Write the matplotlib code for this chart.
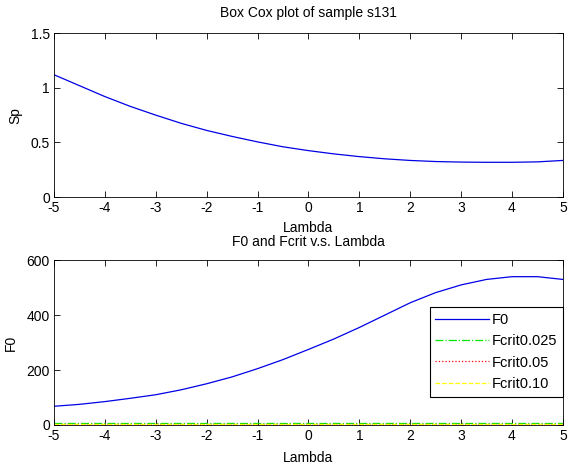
import numpy as np
import matplotlib
matplotlib.use('Agg')
import matplotlib.pyplot as plt

# Data #
lam = [-5, -4.5, -4, -3.5, -3, -2.5, -2, -1.5, -1, -0.5, 0, 0.5, 1, 1.5, 2, 2.5, 3, 3.5, 4, 4.5, 5]
Sp = [1.12, 1.02, 0.92, 0.83, 0.75, 0.675, 0.61, 0.555, 0.505, 0.46, 0.425, 0.395, 0.37, 0.35,
      0.335, 0.325, 0.32, 0.318, 0.318, 0.322, 0.335]
F0 = [68, 75, 85, 97, 110, 128, 150, 175, 205, 238, 275, 313, 355, 400, 445, 482, 510, 530, 540, 540, 530]
Fcrit025 = [6.5] * len(lam)
Fcrit05 = [5.0] * len(lam)
Fcrit10 = [3.5] * len(lam)

plt.rcParams['font.family'] = ['Liberation Sans', 'DejaVu Sans']
plt.rcParams['font.size'] = 10

fig = plt.figure(figsize=(5.68, 4.68), dpi=100)

# Top panel #
ax1 = fig.add_axes([0.095, 0.579, 0.896, 0.350])
ax1.plot(lam, Sp, color=(0, 0, 0.9), lw=0.9)
ax1.set_xlim(-5, 5)
ax1.set_ylim(0, 1.5)
ax1.set_xticks(range(-5, 6))
ax1.set_yticks([0, 0.5, 1, 1.5])
ax1.set_yticklabels(['0', '0.5', '1', '1.5'])
ax1.set_xlabel('Lambda', labelpad=4)
ax1.set_ylabel('Sp', labelpad=6)
ax1.set_title('Box Cox plot of sample s131', fontsize=10, pad=12)

# Bottom panel #
ax2 = fig.add_axes([0.095, 0.092, 0.896, 0.352])
ax2.plot(lam, F0, color=(0, 0, 0.9), lw=0.9, label='F0')
ax2.plot(lam, Fcrit025, color=(0, 0.9, 0), lw=0.9, linestyle='-.', label='Fcrit0.025')
ax2.plot(lam, Fcrit05, color=(1, 0, 0), lw=0.9, linestyle=':', label='Fcrit0.05')
ax2.plot(lam, Fcrit10, color=(1, 1, 0), lw=0.9, linestyle='--', label='Fcrit0.10')
ax2.set_xlim(-5, 5)
ax2.set_ylim(0, 600)
ax2.set_xticks(range(-5, 6))
ax2.set_yticks([0, 200, 400, 600])
ax2.set_xlabel('Lambda', labelpad=6)
ax2.set_ylabel('F0', labelpad=6)
ax2.set_title('F0 and Fcrit v.s. Lambda', fontsize=10, pad=10)

leg = ax2.legend(loc='upper right', bbox_to_anchor=(1.0, 0.715), fancybox=False, framealpha=1,
                 edgecolor='k', handlelength=3.7, handletextpad=0.15, borderaxespad=0,
                 borderpad=0.4, labelspacing=0.5, fontsize=10.5)
leg.get_frame().set_linewidth(0.8)

for ax in (ax1, ax2):
    ax.tick_params(direction='in', top=True, right=True, length=4, width=0.6, labelsize=10)
    ax.tick_params(axis='x', pad=3)
    ax.tick_params(axis='y', pad=3)
    ax.xaxis.set_major_formatter(matplotlib.ticker.FuncFormatter(lambda v, p: '%d' % v))
    for s in ax.spines.values():
        s.set_linewidth(0.6)

fig.savefig('out.png', dpi=100)
